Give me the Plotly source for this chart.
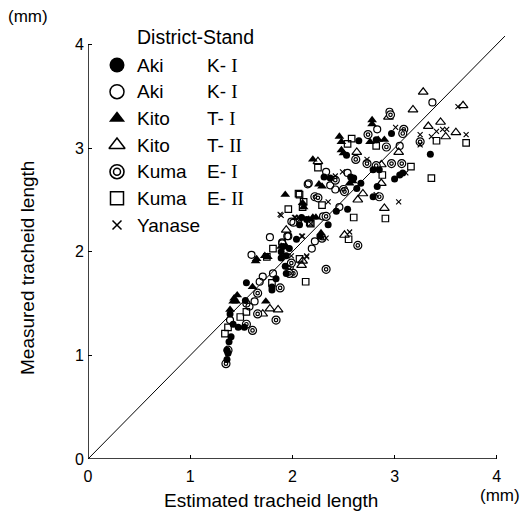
import plotly.graph_objects as go

# Estimated vs. measured tracheid length (mm) for seven district-stand samples
aki_k1_x = [2.97, 2.82, 2.65, 2.53, 2.79, 2.85, 3.05, 3.08, 3.35, 2.31, 2.37, 2.57, 2.60, 2.63, 2.67,
            2.79, 2.83, 2.54, 2.43, 2.09, 2.07, 2.35, 2.04, 2.27, 2.14, 1.97, 1.89, 1.94, 1.93, 1.94,
            1.55, 1.80, 1.84, 1.80, 1.54, 1.39, 1.42, 1.47, 1.53, 1.40, 1.38, 1.36, 1.37, 1.36, 1.89,
            1.91, 3.00]
aki_k1_y = [3.14, 3.08, 3.07, 2.93, 2.79, 2.79, 2.74, 2.76, 2.94, 2.72, 2.71, 2.72, 2.71, 2.61, 2.66,
            2.53, 2.63, 2.41, 2.39, 2.33, 2.26, 2.26, 2.12, 2.15, 2.31, 2.03, 1.94, 1.96, 1.86, 1.79,
            1.70, 1.66, 1.74, 1.63, 1.53, 1.40, 1.30, 1.27, 1.27, 1.18, 1.13, 1.05, 1.02, 0.96, 2.00,
            2.05, 2.70]

aki_k2_x = [3.37, 2.83, 2.33, 2.16, 2.37, 2.42, 2.54, 2.46, 2.30, 2.01, 1.95, 2.22, 2.19, 2.15, 1.99,
            1.96, 1.78, 1.90, 1.60, 1.71, 1.68, 1.81, 1.55, 1.63, 1.58, 1.39, 1.90, 2.95, 3.05]
aki_k2_y = [3.44, 3.18, 2.77, 2.66, 2.64, 2.60, 2.76, 2.43, 2.34, 2.28, 2.15, 2.10, 2.03, 2.65, 2.29,
            2.15, 2.14, 2.09, 1.97, 1.76, 1.71, 1.79, 1.50, 1.52, 1.47, 1.34, 2.08, 3.35, 3.02]

kito_t1_x = [2.78, 2.78, 2.46, 2.48, 2.76, 2.84, 2.90, 2.48, 2.50, 2.20, 2.26, 2.29, 2.56, 2.59, 1.93,
             2.11, 2.16, 2.20, 2.23, 2.28, 2.10, 1.89, 1.94, 1.65, 1.73, 1.76, 1.61, 1.74, 1.43, 1.45,
             1.42, 1.39, 1.64, 1.46]
kito_t1_y = [3.27, 3.23, 3.11, 3.06, 3.06, 3.08, 3.08, 2.98, 2.95, 2.89, 2.65, 2.63, 2.66, 2.68, 2.55,
             2.43, 2.31, 2.33, 2.33, 2.18, 2.47, 2.05, 2.05, 1.93, 1.96, 1.95, 1.66, 1.52, 1.55, 1.52,
             1.52, 1.44, 1.91, 1.58]

kito_t2_x = [3.28, 3.67, 3.18, 2.94, 3.33, 3.50, 2.63, 3.04, 2.87, 2.25, 2.69, 2.64, 2.87, 2.90, 1.94,
             2.51, 2.10, 2.09, 1.78, 1.86, 1.71, 3.45, 3.60]
kito_t2_y = [3.54, 3.41, 3.37, 3.30, 3.21, 3.11, 2.96, 2.96, 2.84, 2.87, 2.56, 2.50, 2.66, 2.42, 2.21,
             2.16, 1.91, 1.87, 1.45, 1.44, 1.40, 3.25, 3.15]

kuma_e1_x = [2.96, 3.09, 3.08, 2.74, 2.92, 2.62, 2.73, 2.82, 2.97, 3.07, 2.42, 2.50, 2.51, 2.85, 2.22,
             2.25, 2.33, 2.29, 2.64, 2.33, 1.97, 2.01, 3.25, 1.99, 1.66, 1.88, 1.84, 1.66, 1.55, 1.61,
             1.37, 1.35, 1.97]
kuma_e1_y = [3.32, 3.18, 3.14, 3.13, 3.01, 2.89, 2.85, 2.83, 2.85, 2.85, 2.69, 2.60, 2.58, 2.53, 2.53,
             2.52, 2.34, 2.13, 2.06, 1.83, 1.85, 1.79, 3.06, 1.89, 1.60, 1.65, 1.34, 1.40, 1.30, 1.24,
             1.05, 0.92, 1.79]

kuma_e2_x = [3.41, 3.70, 3.36, 2.58, 2.82, 2.88, 3.16, 2.25, 2.91, 2.07, 1.96, 2.11, 2.10, 2.29, 2.60,
             2.18, 2.55, 2.07, 2.06, 1.81, 1.80, 2.13, 1.55, 1.49, 1.34, 1.37, 1.75, 2.54, 2.17]
kuma_e2_y = [3.07, 3.05, 2.71, 3.09, 3.02, 2.74, 2.82, 2.81, 2.32, 2.55, 2.41, 2.48, 2.43, 2.45, 2.33,
             2.27, 2.12, 1.93, 2.56, 2.03, 1.70, 1.71, 1.42, 1.37, 1.21, 1.27, 1.95, 3.04, 2.28]

yanase_x = [3.62, 3.01, 3.41, 3.47, 3.51, 3.36, 3.25, 3.25, 3.70, 2.49, 2.42, 2.73, 3.11, 2.82, 3.04,
            2.35, 1.88, 2.02, 2.18, 2.10, 2.33, 2.56, 2.14, 1.89, 2.03, 2.07, 1.99, 2.14, 2.06, 2.09]
yanase_y = [3.40, 3.20, 3.16, 3.18, 3.18, 3.11, 3.13, 3.03, 3.13, 2.77, 2.73, 2.89, 2.76, 2.55, 2.48,
            2.48, 2.36, 2.33, 2.27, 2.15, 2.13, 2.19, 1.95, 2.35, 2.33, 2.31, 1.96, 1.96, 2.33, 2.15]

one_to_one = [0, 4.08]
tick_values = [0, 1, 2, 3, 4]

districts = ["Aki", "Aki", "Kito", "Kito", "Kuma", "Kuma", "Yanase"]
stands = ["K- I", "K- I", "T- I", "T- II", "E- I", "E- II", ""]

W, H = 529, 512
ML, MR, MT, MB = 88, 22, 34, 53
AX_MAX = 4.1
FONT = "Liberation Sans, Arial, sans-serif"
SERIF = "Liberation Serif"
INK = "black"


def px_x(p):
    """Page pixel column -> paper fraction."""
    return (p - ML) / (W - ML - MR)


def px_y(p):
    """Page pixel row -> paper fraction."""
    return (H - MB - p) / (H - MT - MB)


fig = go.Figure()

# 1:1 reference line
fig.add_trace(go.Scatter(x=one_to_one, y=one_to_one, mode="lines",
                         line=dict(color=INK, width=1), hoverinfo="skip"))


def pts(x, y, symbol, size, width=1.2, fill=INK):
    fig.add_trace(go.Scatter(
        x=x, y=y, mode="markers",
        marker=dict(symbol=symbol, size=size, color=fill,
                    line=dict(color=INK, width=width))))


pts(kuma_e2_x, kuma_e2_y, "square-open", 6.5)
pts(kito_t2_x, kito_t2_y, "triangle-up-open", 8.5)
pts(aki_k2_x, aki_k2_y, "circle-open", 7)
pts(kuma_e1_x, kuma_e1_y, "circle", 8, fill="white")
pts(kuma_e1_x, kuma_e1_y, "circle-open", 3.5)
pts(yanase_x, yanase_y, "x-thin-open", 5, width=1.1)
pts(aki_k1_x, aki_k1_y, "circle", 7, width=0)
pts(kito_t1_x, kito_t1_y, "triangle-up", 8.5, width=0)

# Legend key symbols, on an overlay axis measured in page pixels
row_y = [65, 91.7, 118.3, 145, 171.7, 198.3, 225]
sym_x = 117
leg = [("circle", 15, 0), ("circle-open", 14, 1.5), ("triangle-up", 14, 0),
       ("triangle-up-open", 14, 1.5), ("circle-open", 14, 1.6),
       ("square-open", 13, 1.5), ("x-thin-open", 9, 1.5)]
for (sym, sz, lw), ry in zip(leg, row_y):
    fig.add_trace(go.Scatter(x=[sym_x], y=[ry], mode="markers", xaxis="x2", yaxis="y2",
                             marker=dict(symbol=sym, size=sz, color=INK,
                                         line=dict(color=INK, width=lw))))
fig.add_trace(go.Scatter(x=[sym_x], y=[row_y[4]], mode="markers", xaxis="x2", yaxis="y2",
                         marker=dict(symbol="circle-open", size=7, color=INK,
                                     line=dict(color=INK, width=1.5))))

ann = []


def txt(x, y, s, size=19, xanchor="left", angle=0):
    ann.append(dict(x=px_x(x), y=px_y(y), xref="paper", yref="paper", text=s, showarrow=False,
                    xanchor=xanchor, yanchor="middle", textangle=angle,
                    font=dict(family=FONT, size=size, color=INK)))


txt(135, 37, "District-Stand", size=19.5)
for d, s, ry in zip(districts, stands, row_y):
    txt(135, ry, d)
    if s:
        letter, numeral = s.split(" ")
        txt(205, ry, f"{letter} <span style='font-family:{SERIF}'>{numeral}</span>")

txt(28, 16, "(mm)", size=17, xanchor="center")
txt(500, 495, "(mm)", size=17, xanchor="center")
txt(271, 500, "Estimated tracheid length", size=19, xanchor="center")
txt(27, 268, "Measured tracheid length", size=19, xanchor="center", angle=-90)

axis_common = dict(range=[0, AX_MAX], tickvals=tick_values, ticks="inside", ticklen=4,
                   tickwidth=1.2, tickcolor=INK, showline=False, showgrid=False,
                   zeroline=False, tickfont=dict(family=FONT, size=16, color=INK))

fig.update_layout(
    width=W, height=H,
    margin=dict(l=ML, r=MR, t=MT, b=MB),
    paper_bgcolor="white", plot_bgcolor="white",
    showlegend=False,
    xaxis=dict(**axis_common, ticklabelstandoff=6),
    yaxis=dict(**axis_common, ticklabelstandoff=3),
    xaxis2=dict(range=[ML, W - MR], overlaying="x", visible=False, fixedrange=True),
    yaxis2=dict(range=[H - MB, MT], overlaying="y", visible=False, fixedrange=True),
    annotations=ann,
    shapes=[
        dict(type="line", xref="x", yref="y", x0=0, y0=0, x1=4, y1=0,
             line=dict(color=INK, width=1.5)),
        dict(type="line", xref="x", yref="y", x0=0, y0=0, x1=0, y1=4,
             line=dict(color=INK, width=1.5)),
    ],
)

fig.write_html("out.html")
